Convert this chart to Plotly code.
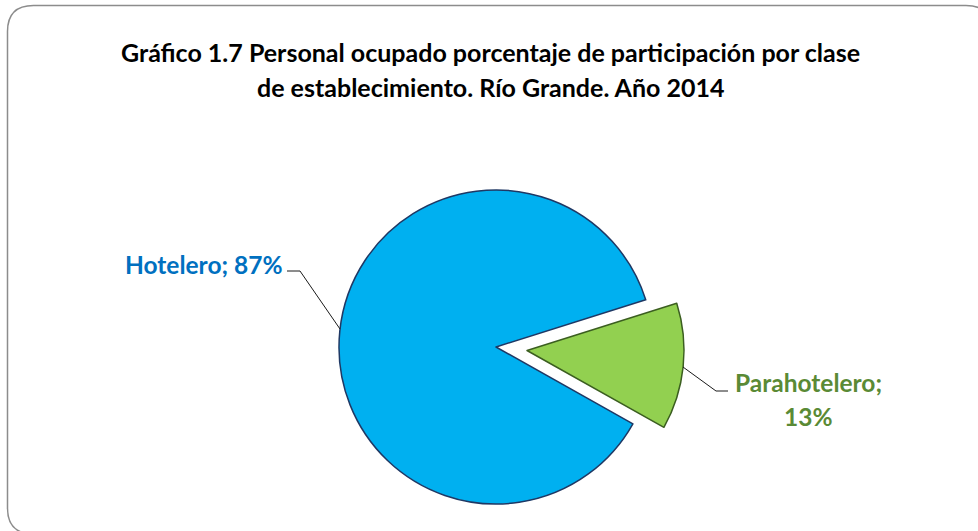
import plotly.graph_objects as go

# ---- data ----
categories = ["Hotelero", "Parahotelero"]
values = [87, 13]
title_lines = ["Gráfico 1.7 Personal ocupado porcentaje de participación por clase",
               "de establecimiento. Río Grande. Año 2014"]

# ---- style ----
W, H = 978, 531
fill_colors = ["#00B0F0", "#92D050"]
line_colors = ["#1F3864", "#3B5E20"]
label_colors = ["#0070C0", "#5A8A35"]
FONT = "Lato"

def px(x):
    return x / W

def py(y):
    return 1 - y / H

def dom(cx, cy, r):
    return dict(x=[px(cx - r), px(cx + r)], y=[py(cy + r), py(cy - r)])

R = 157
rotation = 119.3
total = sum(values)

fig = go.Figure()
# main pie (Hotelero slice visible)
fig.add_trace(go.Pie(
    labels=categories, values=values, sort=False, direction="clockwise",
    rotation=rotation, textinfo="none", hoverinfo="label+percent",
    marker=dict(colors=[fill_colors[0], "rgba(0,0,0,0)"],
                line=dict(color=[line_colors[0], "rgba(0,0,0,0)"], width=[1.5, 0])),
    domain=dom(496, 347, R), showlegend=False,
))
# exploded slice (Parahotelero)
fig.add_trace(go.Pie(
    labels=categories, values=values, sort=False, direction="clockwise",
    rotation=rotation, textinfo="none", hoverinfo="label+percent",
    marker=dict(colors=["rgba(0,0,0,0)", fill_colors[1]],
                line=dict(color=["rgba(0,0,0,0)", line_colors[1]], width=[0, 1.5])),
    domain=dom(527, 350.5, R), showlegend=False,
))

annotations = []
TS = 25
LS = 24.5

def ann(text, x, y, size, color):
    return dict(text=text, x=px(x), y=py(y), xref="paper", yref="paper",
                xanchor="center", yanchor="middle", showarrow=False,
                font=dict(family=FONT, size=size, color=color))

# title
annotations.append(ann("<b>" + title_lines[0] + "</b>", 490, 52, TS, "#000000"))
annotations.append(ann("<b>" + title_lines[1] + "</b>", 490, 87, TS, "#000000"))
# data labels
pct = [round(100 * v / total) for v in values]
annotations.append(ann(f"<b>{categories[0]}; {pct[0]}%</b>", 204, 264, LS, label_colors[0]))
annotations.append(ann(f"<b>{categories[1]};</b>", 808, 382, LS, label_colors[1]))
annotations.append(ann(f"<b>{pct[1]}%</b>", 808, 416, LS, label_colors[1]))

shapes = []
# leader lines
def poly(pts):
    d = "M " + " L ".join(f"{px(x):.5f},{py(y):.5f}" for x, y in pts)
    return dict(type="path", path=d, xref="paper", yref="paper",
                line=dict(color="#1a1a1a", width=1))
shapes.append(poly([(287, 271), (300, 271), (340, 329)]))
shapes.append(poly([(683, 367), (716, 391), (728, 391)]))

# rounded outer border
L, T, Rr, B, rad = 7.5, 5.5, 992, 534, 26
d = (f"M {px(L):.5f},{py(T+rad):.5f} "
     f"Q {px(L):.5f},{py(T):.5f} {px(L+rad):.5f},{py(T):.5f} "
     f"L {px(Rr-rad):.5f},{py(T):.5f} "
     f"Q {px(Rr):.5f},{py(T):.5f} {px(Rr):.5f},{py(T+rad):.5f} "
     f"L {px(Rr):.5f},{py(B-rad):.5f} "
     f"Q {px(Rr):.5f},{py(B):.5f} {px(Rr-rad):.5f},{py(B):.5f} "
     f"L {px(L+rad):.5f},{py(B):.5f} "
     f"Q {px(L):.5f},{py(B):.5f} {px(L):.5f},{py(B-rad):.5f} Z")
shapes.append(dict(type="path", path=d, xref="paper", yref="paper",
                   line=dict(color="#8C8C8C", width=1.5), layer="below"))

fig.update_layout(
    width=W, height=H, margin=dict(l=0, r=0, t=0, b=0),
    paper_bgcolor="white", plot_bgcolor="white",
    annotations=annotations, shapes=shapes, showlegend=False,
)

fig.write_html("out.html", config={"displayModeBar": False},
               post_script="document.body.style.margin='0';document.body.style.overflow='hidden';")
